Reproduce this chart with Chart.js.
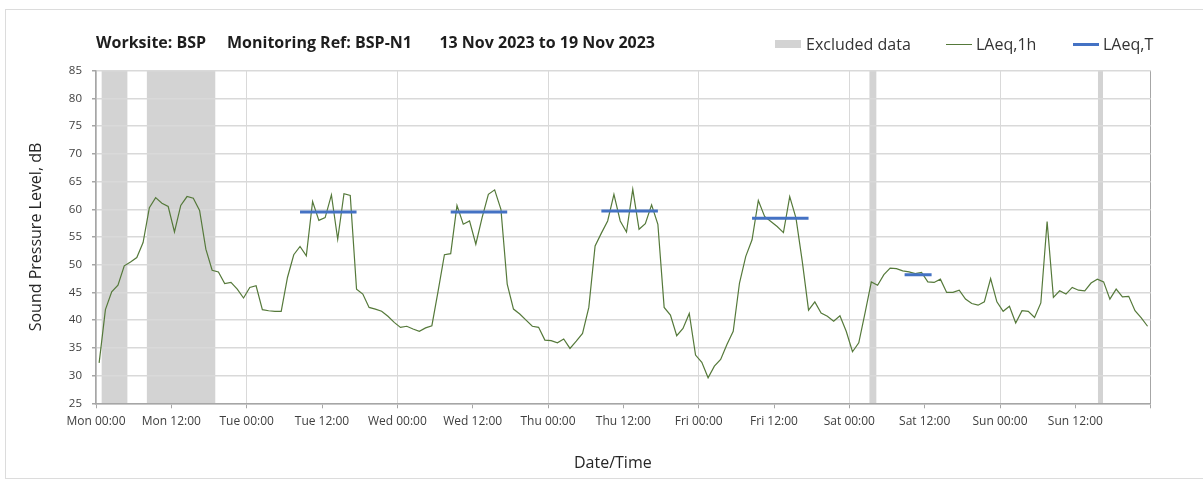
<!DOCTYPE html>
<html><head><meta charset="utf-8">
<script src="https://cdn.jsdelivr.net/npm/chart.js@4"></script>
<style>
html,body{margin:0;padding:0;background:#fff;}
#wrap{position:relative;width:1203px;height:492px;overflow:hidden;font-family:"Open Sans",sans-serif;}
#frame{position:absolute;left:5px;top:9px;width:1230px;height:470px;border:1px solid #dcdcdc;box-sizing:border-box;}
#c{position:absolute;left:0;top:0;}
.t{position:absolute;white-space:nowrap;color:#1e1e1e;}
.title{font-weight:700;font-size:16px;line-height:20px;top:32px;}
.lg{font-size:16px;line-height:20px;top:34px;color:#333;}
.ax{font-size:16px;line-height:20px;color:#262626;}
.sw{position:absolute;}
</style></head><body>
<div id="wrap">
<div id="frame"></div>
<canvas id="c" width="1203" height="492"></canvas>
<div class="t title" style="left:96px">Worksite: BSP</div>
<div class="t title" style="left:227px">Monitoring Ref: BSP-N1</div>
<div class="t title" style="right:548px">13 Nov 2023 to 19 Nov 2023</div>
<div class="sw" style="left:775px;top:40px;width:26px;height:8px;background:#d3d3d3"></div>
<div class="t lg" style="left:806px">Excluded data</div>
<div class="sw" style="left:946px;top:44px;width:26px;height:1px;background:#55793a"></div>
<div class="t lg" style="left:976px">LAeq,1h</div>
<div class="sw" style="left:1073px;top:43px;width:26px;height:3px;background:#4472c4"></div>
<div class="t lg" style="left:1103px">LAeq,T</div>
<div class="t ax" style="left:574px;top:452px">Date/Time</div>
</div>
<script>
// Hourly LAeq,1h values (dB), one array per day, Mon 13 Nov to Sun 19 Nov 2023
const mon = [32.3, 41.9, 45.1, 46.3, 49.8, 50.5, 51.3, 54.0, 60.3, 62.1, 61.1, 60.5, 55.9, 60.7, 62.3, 62.0, 59.8, 52.8, 49.0, 48.7, 46.6, 46.8, 45.6, 44.0];
const tue = [45.9, 46.2, 41.9, 41.7, 41.6, 41.6, 47.7, 51.8, 53.3, 51.6, 61.4, 58.0, 58.5, 62.6, 54.6, 62.8, 62.5, 45.6, 44.7, 42.3, 42.0, 41.6, 40.7, 39.6];
const wed = [38.7, 38.9, 38.4, 38.0, 38.6, 39.0, 45.3, 51.8, 52.0, 60.7, 57.3, 57.9, 53.7, 58.5, 62.7, 63.5, 60.0, 46.5, 42.0, 41.1, 40.0, 38.9, 38.7, 36.4];
const thu = [36.3, 35.9, 36.6, 34.9, 36.2, 37.6, 42.3, 53.4, 55.7, 57.9, 62.7, 57.9, 55.9, 63.6, 56.4, 57.4, 60.8, 57.3, 42.3, 40.9, 37.2, 38.5, 41.2, 33.7];
const fri = [32.4, 29.6, 31.7, 32.9, 35.6, 38.0, 46.7, 51.5, 54.5, 61.6, 58.7, 57.8, 56.9, 55.8, 62.3, 58.4, 50.6, 41.8, 43.3, 41.3, 40.7, 39.8, 40.8, 38.0];
const sat = [34.3, 35.9, 41.3, 46.9, 46.3, 48.2, 49.4, 49.3, 48.9, 48.7, 48.4, 48.6, 46.9, 46.8, 47.4, 45.0, 45.0, 45.4, 43.8, 43.0, 42.7, 43.3, 47.5, 43.3];
const sun = [41.6, 42.5, 39.5, 41.7, 41.6, 40.5, 43.1, 57.8, 44.1, 45.3, 44.7, 45.9, 45.4, 45.3, 46.7, 47.4, 46.9, 43.8, 45.6, 44.2, 44.3, 41.7, 40.4, 38.9];

// LAeq,T periods (hours since Mon 00:00) and levels
const periodStart = [32.5, 56.5, 80.5, 104.5, 128.8];
const periodEnd   = [41.5, 65.5, 89.5, 113.5, 133.1];
const periodValue = [59.5, 59.5, 59.7, 58.4, 48.2];

// Excluded data periods (hours since Mon 00:00)
const excludedStart = [0.9, 8.1, 123.2, 159.6];
const excludedEnd   = [5.0, 19.0, 124.3, 160.4];

// Axis ticks
const tickHours  = [0, 12, 24, 36, 48, 60, 72, 84, 96, 108, 120, 132, 144, 156, 168];
const tickLabels = ['Mon 00:00','Mon 12:00','Tue 00:00','Tue 12:00','Wed 00:00','Wed 12:00','Thu 00:00','Thu 12:00','Fri 00:00','Fri 12:00','Sat 00:00','Sat 12:00','Sun 00:00','Sun 12:00',''];
const yMin = 25, yMax = 85, yStep = 5;

const hourly = [].concat(mon, tue, wed, thu, fri, sat, sun);
const hourlyPoints = hourly.map((v, i) => ({x: i + 0.5, y: v}));
const periodPoints = [];
periodStart.forEach((s, i) => {
  periodPoints.push({x: s, y: periodValue[i]}, {x: periodEnd[i], y: periodValue[i]}, {x: (periodEnd[i] + (periodStart[i+1] ?? periodEnd[i] + 1)) / 2, y: null});
});

const excludedPlugin = {
  id: 'excluded',
  beforeDraw(chart) {
    const {ctx, chartArea: a, scales: {x}} = chart;
    ctx.save();
    ctx.fillStyle = '#d3d3d3';
    excludedStart.forEach((s, i) => {
      const x0 = x.getPixelForValue(s), x1 = x.getPixelForValue(excludedEnd[i]);
      ctx.fillRect(x0, a.top, x1 - x0, a.bottom - a.top);
    });
    ctx.restore();
  }
};

const tickFont = {family: 'Open Sans', size: 12};
const titleFont = {family: 'Open Sans', size: 16};

new Chart(document.getElementById('c'), {
  type: 'line',
  data: {
    datasets: [
      {label: 'LAeq,T', data: periodPoints, borderColor: '#4472c4', borderWidth: 3, pointRadius: 0, spanGaps: false, tension: 0, order: 1, borderCapStyle: 'butt'},
      {label: 'LAeq,1h', data: hourlyPoints, borderColor: '#55793a', borderWidth: 1.2, pointRadius: 0, tension: 0, order: 2}
    ]
  },
  options: {
    responsive: false,
    animation: false,
    events: [],
    layout: {padding: {left: 0, right: 52.3, top: 70.7, bottom: 0}},
    plugins: {legend: {display: false}, title: {display: false}, tooltip: {enabled: false}},
    scales: {
      x: {
        type: 'linear', min: 0, max: 168,
        afterBuildTicks: s => { s.ticks = tickHours.map(v => ({value: v})); },
        afterFit: s => { s.height = 88.7; },
        ticks: {autoSkip: false, maxRotation: 0, minRotation: 0, font: tickFont, color: '#404040', padding: 6,
          callback: v => { const k = tickHours.indexOf(v); return k >= 0 ? tickLabels[k] : ''; }},
        grid: {
          color: c => (c.tick && c.tick.value === 168) ? '#a6a6a6' : ((c.tick && c.tick.value % 24 === 0) ? '#d9d9d9' : 'rgba(0,0,0,0)'),
          tickColor: '#a6a6a6', tickLength: 5, lineWidth: 1
        },
        border: {color: '#a6a6a6', width: 1.5},
        title: {display: false}
      },
      y: {
        min: yMin, max: yMax,
        afterFit: s => { s.width = 96; },
        ticks: {stepSize: yStep, font: {family: 'Open Sans', size: 11.5}, color: '#404040', padding: 10},
        grid: {color: '#d9d9d9', lineWidth: 1.5, tickColor: '#a6a6a6', tickLength: 4},
        border: {color: '#a6a6a6', width: 1.5},
        title: {display: true, text: 'Sound Pressure Level, dB', font: titleFont, color: '#262626', padding: {top: 27, bottom: 0}}
      }
    }
  },
  plugins: [excludedPlugin]
});
</script>
</body></html>
